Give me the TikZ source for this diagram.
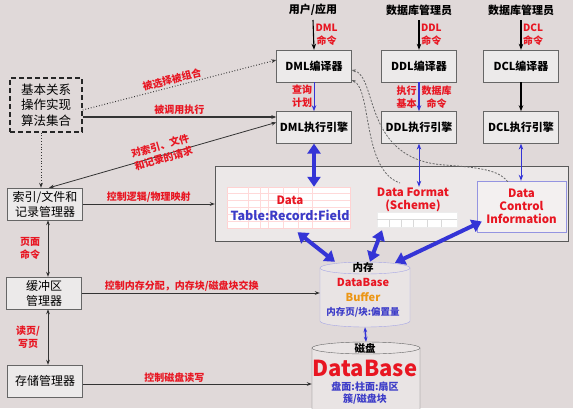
\documentclass[tikz,border=0pt]{standalone}
\usepackage{fontspec}
\newfontfamily\cjk{Noto Sans CJK SC}
\usetikzlibrary{arrows.meta,positioning}
\definecolor{bgpink}{RGB}{224,217,217}
\definecolor{boxfill}{RGB}{236,234,234}
\definecolor{labred}{RGB}{232,22,34}
\definecolor{arrblue}{RGB}{52,52,214}
\definecolor{txtblue}{RGB}{60,60,200}
\definecolor{bufgold}{RGB}{236,150,20}

\begin{document}
\begin{tikzpicture}[x=1pt,y=-1pt,
    box/.style = {draw=black!60, fill=boxfill, minimum width=75pt, minimum height=32pt,
                  inner sep=1pt, align=center, font=\cjk\bfseries\fontsize{11}{13}\selectfont},
    mgr/.style = {box, font=\cjk\fontsize{12}{15}\selectfont},
    hdr/.style = {font=\cjk\bfseries\fontsize{11}{13}\selectfont, inner sep=1pt},
    lab/.style = {text=labred, font=\cjk\bfseries\fontsize{10}{13}\selectfont, align=center, inner sep=1.5pt},
    big/.style = {font=\cjk\bfseries\fontsize{11.5}{13}\selectfont, align=center, inner sep=1pt},
    slot/.style = {minimum width=#1, inner sep=0},
    fat/.style = {draw=arrblue, line width=4pt, {Triangle[width=13pt,length=10pt]}-{Triangle[width=13pt,length=10pt]}},
    bluelink/.style = {draw=arrblue, line width=1pt, -{Stealth[length=6pt]}},
    blacklink/.style = {draw=black, line width=1.1pt, -{Stealth[length=6pt]}},
    flow/.style = {draw=black!80, line width=0.8pt, -{Stealth[length=5pt]}},
    hint/.style = {draw=black!60, line width=0.8pt, dash pattern=on 2pt off 1.5pt}]

\fill[bgpink] (0,0) rectangle (573,408);
\useasboundingbox (0,0) rectangle (573,408);

% compilers and engines
\node[hdr] (user) at (313,10) {用户/应用};
\node[hdr] (dba1) at (419,10) {数据库管理员};
\node[hdr] (dba2) at (521,10) {数据库管理员};
\node[box] (dmlc) at (314,66) {DML编译器};
\node[box] (ddlc) at (419,66) {DDL编译器};
\node[box] (dclc) at (521,66) {DCL编译器};
\node[box, below=29pt of dmlc] (dmle) {DML执行引擎};
\node[box, below=29pt of ddlc] (ddle) {DDL执行引擎};
\node[box, below=29pt of dclc] (dcle) {DCL执行引擎};

\draw[blacklink] (user.south |- 0,20) -- (dmlc.north) node[lab, midway, right] {DML\\命令};
\draw[blacklink] (dba1.south |- 0,20) -- (ddlc.north) node[lab, midway, right] {DDL\\命令};
\draw[blacklink] (dba2.south |- 0,20) -- (dclc.north) node[lab, midway, right] {DCL\\命令};
\draw[bluelink] (dmlc) -- (dmle) node[lab, midway, left] {查询\\计划};
\draw[bluelink, line width=2pt] (ddlc) -- (ddle)
    node[lab, midway, left] {执行\\基本} node[lab, midway, right] {数据库\\命令};
\draw[blacklink] (dclc) -- (dcle);

% left column
\node[mgr, draw=black!85, fill=none, line width=1.3pt, dash pattern=on 5pt off 3pt,
      minimum width=72pt, minimum height=54pt, font=\cjk\fontsize{12.5}{15.5}\selectfont] (algo) at (46,105) {基本关系\\操作实现\\算法集合};
\node[mgr] (idx) at (45,204) {索引/文件和\\记录管理器};
\node[mgr] (buf) at (44,293) {缓冲区\\管理器};
\node[mgr] (stor) at (45,381) {存储管理器};

% storage structure
\node[draw=black!65, fill=bgpink!60!white, minimum width=353pt, minimum height=75pt] (dict) at (391.5,203.5) {};
\node[draw=pink!70, fill=white, minimum width=123pt, minimum height=41pt, inner sep=0] (tbl) at (288.5,207.5) {};
\foreach \r in {1,...,5}
    \draw[pink!60] (tbl.north west) ++(0,\r*6.83) -- ++(123,0);
\foreach \c in {21,33,41,56,71,85}
    \draw[pink!60] (tbl.north west) ++(\c,0) -- ++(0,41);
\node[big, text=labred] (data) at (290,200) {Data};
\node[big, text=txtblue, font=\cjk\bfseries\fontsize{12.5}{14}\selectfont] (trf) at (290,215) {Table:Record:Field};
\node[draw=white!85!gray, fill=white, minimum width=80pt, minimum height=15pt, inner sep=0] (form) at (417,219.5) {};
\draw[gray!30] (form.west) -- (form.east);
\foreach \c in {12,24,36,50,64}
    \draw[gray!30] (form.west) ++(\c,0) -- ++(0,7.5);
\node[big, text=labred] (fmt) at (413,200) {Data Format\\(Scheme)};
\node[big, text=labred, draw=txtblue!55, fill=bgpink!40!white, minimum width=89pt, minimum height=51pt]
    (dci) at (521.5,206.5) {Data\\Control\\Information};

\draw[fat] (dmle.south) -- (dmle.south |- tbl.north);
\draw[bluelink, {Stealth[length=6pt]}-{Stealth[length=6pt]}] (ddle.south) -- (ddle.south |- fmt.north);
\draw[bluelink, {Stealth[length=6pt]}-{Stealth[length=6pt]}] (dcle.south) -- (dcle.south |- dci.north);
\draw[hint, {Stealth[length=4pt]}-] ([yshift=-14pt]dmlc.east) .. controls (372,90) and (362,170) .. (400,183);
\draw[hint, {Stealth[length=4pt]}-] ([yshift=-4pt]dmlc.east) .. controls (378,76) and (362,160) .. (445,165)
    .. controls (488,168) and (500,172) .. (508,182);

% buffer and disk
\node[slot=90pt, minimum height=65pt] (mem) at (365,294.5) {};
\draw[draw=txtblue!45, fill=bgpink!70!white] (320,268) -- (320,321)
    .. controls (320,324.3) and (340.2,327) .. (365,327) .. controls (389.8,327) and (410,324.3) .. (410,321) -- (410,268);
\draw[draw=txtblue!45, fill=bgpink!70!white] (365,268) ellipse [x radius=45, y radius=6];
\node[big, font=\cjk\bfseries\fontsize{10.5}{12}\selectfont] (memt) at (363,268) {内存};
\node[big, text=labred, font=\cjk\bfseries\fontsize{11}{12}\selectfont] (membuf) at (363,282) {DataBase};
\node[big, text=bufgold, font=\cjk\bfseries\fontsize{11}{12}\selectfont] (bufw) at (363,297) {Buffer};
\node[big, text=txtblue, font=\cjk\bfseries\fontsize{9.5}{11}\selectfont] (memoff) at (363,312) {内存页/块:偏置量};
\node[slot=108pt, minimum height=72pt] (disk) at (366,378) {};
\draw[draw=black!60, fill=bgpink!70!white] (312,348) -- (312,410)
    .. controls (312,413.3) and (336.2,416) .. (366,416) .. controls (395.8,416) and (420,413.3) .. (420,410) -- (420,348);
\draw[draw=black!60, fill=bgpink!70!white] (366,348) ellipse [x radius=54, y radius=6];
\node[big, font=\cjk\bfseries\fontsize{10.5}{12}\selectfont] (diskt) at (365,348) {磁盘};
\node[big, text=labred, font=\cjk\bfseries\fontsize{22}{24}\selectfont] (dbw) at (365,368) {DataBase};
\node[big, text=txtblue, font=\cjk\bfseries\fontsize{10}{12.5}\selectfont] (sect) at (365,393) {盘面:柱面:扇区\\簇/磁盘块};

\draw[fat] ([xshift=9pt,yshift=-4pt]tbl.south) -- ([xshift=-30pt]mem.north);
\draw[fat] ([xshift=-35pt,yshift=-3pt]form.south) -- ([xshift=5pt]mem.north);
\draw[fat] ([xshift=5pt,yshift=-15pt]dci.west) -- ([xshift=30pt,yshift=-1pt]mem.north);
\draw[bluelink, line width=1.5pt, {Stealth[length=5pt]}-{Stealth[length=5pt]}] (mem.south) -- (disk.north);

% left connections
\draw[flow, dotted, line width=1pt] ([yshift=-5pt]algo.east) -- ([yshift=6pt]dmlc.west)
    node[lab, pos=0.47, above, sloped] {被选择被组合};
\draw[flow, line width=1.3pt] ([yshift=-12pt]algo.east) -- ([yshift=-12pt]algo.east -| dmle.west)
    node[lab, midway, above] {被调用执行};
\draw[flow, {Stealth[length=5pt]}-{Stealth[length=5pt]}] ([yshift=5pt]dmle.west) -- ([xshift=4pt]idx.north)
    node[lab, pos=0.5, sloped, yshift=3pt] {对索引、文件\\和记录的请求};
\draw[flow, dotted, line width=1pt] ([xshift=-5pt]algo.south) -- ([xshift=-4pt]idx.north);
\draw[flow] (idx.east) -- (idx.east -| dict.west) node[lab, midway, above] {控制逻辑/物理映射};
\draw[flow] (buf.east) -- (buf.east -| mem.west) node[lab, pos=0.42, above] {控制内存分配，内存块/磁盘块交换};
\draw[flow] ([yshift=-3pt]stor.east) -- ([yshift=-3pt]stor.east -| disk.west) node[lab, pos=0.4, above] {控制磁盘读写};
\draw[flow, {Stealth[length=5pt]}-{Stealth[length=5pt]}] ([xshift=3pt]idx.south) -- ([xshift=4pt]buf.north)
    node[lab, midway, left=6pt] {页面\\命令};
\draw[flow, {Stealth[length=5pt]}-{Stealth[length=5pt]}] ([xshift=4pt]buf.south) -- ([xshift=3pt]stor.north)
    node[lab, midway, left=6pt] {读页/\\写页};
\end{tikzpicture}
\end{document}
